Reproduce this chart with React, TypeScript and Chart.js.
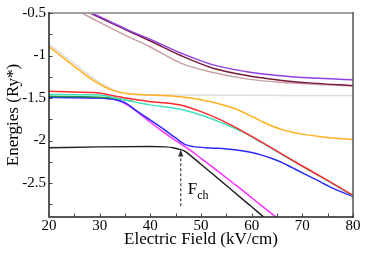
import { useEffect, useRef } from 'react';
import { Chart, registerables } from 'chart.js';

Chart.register(...registerables);

const X_TICKS = [20, 30, 40, 50, 60, 70, 80];
const X_MINOR = [25, 35, 45, 55, 65, 75];
const Y_TICKS = [-2.5, -2, -1.5, -1, -0.5];
const Y_MINOR = [-2.75, -2.25, -1.75, -1.25, -0.75];

const purpleX = [20, 25, 28.4, 32, 36, 40, 46, 52.4, 59, 65.6, 72, 80];
const purpleY = [-0.3, -0.42, -0.5, -0.6, -0.71, -0.81, -0.97, -1.11, -1.19, -1.238, -1.265, -1.285];

const maroonX = [20, 25, 28.1, 32, 36, 40, 46, 52.4, 59, 65.6, 72, 80];
const maroonY = [-0.3, -0.41, -0.5, -0.61, -0.72, -0.83, -1.0, -1.15, -1.235, -1.29, -1.325, -1.355];

const rosyX = [20, 23, 26.5, 30, 35, 40, 46, 52.4, 59, 65.6, 72, 80];
const rosyY = [-0.27, -0.38, -0.5, -0.61, -0.76, -0.9, -1.09, -1.2, -1.275, -1.315, -1.337, -1.355];

const grayX = [20, 24, 29.2, 31.5, 33.8, 36, 40, 45.7, 80];
const grayY = [-0.865, -1.05, -1.285, -1.37, -1.43, -1.455, -1.462, -1.465, -1.472];

const orangeX = [20, 24, 28.5, 31, 33.2, 35.8, 40, 46, 50, 53, 56.5, 60, 62, 64, 66, 68, 70, 73, 76, 80];
const orangeY = [-0.895, -1.08, -1.285, -1.37, -1.422, -1.45, -1.465, -1.485, -1.52, -1.56, -1.62, -1.715, -1.775, -1.83, -1.872, -1.902, -1.925, -1.95, -1.97, -1.99];

const redX = [20, 25, 29.9, 33.2, 36, 39.7, 45.7, 50, 54, 57.9, 62, 66, 70, 75, 80];
const redY = [-1.422, -1.43, -1.44, -1.48, -1.51, -1.54, -1.58, -1.66, -1.76, -1.88, -2.02, -2.16, -2.3, -2.47, -2.645];

const turqX = [20, 29.9, 33.2, 36, 39.7, 45.7, 50, 54, 57.9, 62, 66, 70, 75, 80];
const turqY = [-1.46, -1.465, -1.5, -1.535, -1.578, -1.63, -1.7, -1.79, -1.89, -2.025, -2.165, -2.305, -2.475, -2.65];

const greenX = [20, 29.9, 33.2, 35, 36.5];
const greenY = [-1.48, -1.49, -1.505, -1.522, -1.541];

const blueX = [20, 29.9, 33.2, 35.1, 37, 39, 42.7, 45, 46.8, 48.5, 52, 55, 58, 60, 62, 64, 66, 68, 70, 73, 76, 80];
const blueY = [-1.492, -1.5, -1.52, -1.558, -1.64, -1.72, -1.87, -1.97, -2.045, -2.072, -2.088, -2.1, -2.12, -2.142, -2.172, -2.212, -2.26, -2.32, -2.38, -2.47, -2.56, -2.66];

const magentaX = [20, 29.9, 33.2, 34, 36, 38, 40, 42, 44, 46, 48, 50, 53, 56, 59, 62, 65];
const magentaY = [-1.492, -1.5, -1.52, -1.535, -1.6, -1.69, -1.785, -1.875, -1.96, -2.04, -2.12, -2.21, -2.345, -2.485, -2.625, -2.77, -2.91];

const blackX = [20, 30, 40, 43, 44.5, 45.5, 46.6, 48, 50, 55, 60, 62.4, 64];
const blackY = [-2.085, -2.075, -2.07, -2.075, -2.085, -2.1, -2.12, -2.18, -2.28, -2.53, -2.78, -2.9, -2.98];

const ARROW_X = 46;
const ARROW_Y0 = -2.773;
const ARROW_Y1 = -2.105;
const LABEL_X = 47.4;
const LABEL_Y = -2.632;

const SERIF = "'Liberation Serif', 'DejaVu Serif', serif";

Chart.defaults.font.family = SERIF;

function pts(xs: number[], ys: number[]) {
  return xs.map((x, i) => ({ x, y: ys[i] }));
}

function ds(xs: number[], ys: number[], color: string, width = 1.5) {
  return {
    data: pts(xs, ys),
    borderColor: color,
    backgroundColor: color,
    borderWidth: width,
    pointRadius: 0,
    fill: false,
    cubicInterpolationMode: 'monotone' as const,
  };
}

const framePlugin = {
  id: 'frame',
  afterDatasetsDraw(chart: any) {
    const ctx = chart.ctx as CanvasRenderingContext2D;
    const { left, right, top, bottom } = chart.chartArea;
    const xs = chart.scales.x;
    const ys = chart.scales.y;
    ctx.save();
    const ax = xs.getPixelForValue(ARROW_X);
    const ay0 = ys.getPixelForValue(ARROW_Y0);
    const ay1 = ys.getPixelForValue(ARROW_Y1);
    ctx.strokeStyle = '#444';
    ctx.lineWidth = 1.2;
    ctx.setLineDash([3, 2]);
    ctx.beginPath();
    ctx.moveTo(ax, ay0);
    ctx.lineTo(ax, ay1 + 6);
    ctx.stroke();
    ctx.setLineDash([]);
    ctx.fillStyle = '#333';
    ctx.beginPath();
    ctx.moveTo(ax, ay1);
    ctx.lineTo(ax - 2.6, ay1 + 7);
    ctx.lineTo(ax + 2.6, ay1 + 7);
    ctx.closePath();
    ctx.fill();
    const lx = xs.getPixelForValue(LABEL_X);
    const ly = ys.getPixelForValue(LABEL_Y);
    ctx.fillStyle = '#000';
    ctx.textBaseline = 'alphabetic';
    ctx.textAlign = 'left';
    ctx.font = `17px ${SERIF}`;
    ctx.fillText('F', lx, ly);
    const fw = ctx.measureText('F').width;
    ctx.font = `12px ${SERIF}`;
    ctx.fillText('ch', lx + fw, ly + 5);
    ctx.lineCap = 'square';
    ctx.strokeStyle = '#a0a0a0';
    ctx.lineWidth = 2;
    ctx.beginPath();
    ctx.moveTo(left, top);
    ctx.lineTo(right, top);
    ctx.stroke();
    ctx.strokeStyle = '#555';
    ctx.lineWidth = 1.5;
    ctx.beginPath();
    ctx.moveTo(right, top);
    ctx.lineTo(right, bottom);
    ctx.stroke();
    ctx.strokeStyle = '#222';
    ctx.beginPath();
    ctx.moveTo(left, top);
    ctx.lineTo(left, bottom);
    ctx.lineTo(right, bottom);
    ctx.stroke();
    ctx.lineWidth = 1;
    ctx.strokeStyle = '#444';
    ctx.beginPath();
    X_TICKS.concat(X_MINOR).forEach((v) => {
      const p = Math.round(xs.getPixelForValue(v)) + 0.5;
      ctx.moveTo(p, bottom);
      ctx.lineTo(p, bottom - 3);
    });
    Y_TICKS.concat(Y_MINOR).forEach((v) => {
      const p = Math.round(ys.getPixelForValue(v)) + 0.5;
      ctx.moveTo(left, p);
      ctx.lineTo(left + 3, p);
    });
    ctx.stroke();
    ctx.restore();
  },
};

export default function App() {
  const ref = useRef<HTMLCanvasElement | null>(null);
  useEffect(() => {
    document.body.style.margin = '0';
    const canvas = ref.current!;
    const chart = new Chart(canvas, {
      type: 'line',
      data: {
        datasets: [
          ds(purpleX, purpleY, '#9040e0'),
          ds(maroonX, maroonY, '#7a1a3a'),
          ds(rosyX, rosyY, '#c8a0a0'),
          ds(orangeX, orangeY, '#ffb020'),
          ds(grayX, grayY, '#dcdcdc'),
          ds(redX, redY, '#ff2a2a'),
          ds(turqX, turqY, '#40e0c0'),
          ds(greenX, greenY, '#1a9a40'),
          ds(blueX, blueY, '#2a2aff'),
          ds(magentaX, magentaY, '#ff30ff'),
          ds(blackX, blackY, '#222222'),
        ] as any,
      },
      options: {
        animation: false,
        responsive: false,
        maintainAspectRatio: false,
        layout: { padding: { left: 0, top: 13, right: 21, bottom: 0 } },
        plugins: { legend: { display: false }, tooltip: { enabled: false } },
        scales: {
          x: {
            type: 'linear',
            min: 20,
            max: 80,
            grid: { display: false, drawTicks: false },
            border: { display: false },
            afterBuildTicks: (s: any) => {
              s.ticks = X_TICKS.map((v) => ({ value: v }));
            },
            afterFit: (s: any) => {
              s.height = 45;
            },
            ticks: {
              padding: 0,
              color: '#000',
              font: { family: SERIF, size: 15 },
              callback: (v: any) => String(v),
            },
            title: {
              display: true,
              text: 'Electric Field (kV/cm)',
              color: '#000',
              font: { family: SERIF, size: 17 },
              padding: { top: 0, bottom: 12.3 },
            },
          },
          y: {
            type: 'linear',
            min: -2.9,
            max: -0.5,
            grid: { display: false, drawTicks: false },
            border: { display: false },
            afterBuildTicks: (s: any) => {
              s.ticks = Y_TICKS.map((v) => ({ value: v }));
            },
            afterFit: (s: any) => {
              s.width = 49;
            },
            ticks: {
              padding: 3,
              color: '#000',
              font: { family: SERIF, size: 15 },
              callback: (v: any) => String(v),
            },
            title: {
              display: true,
              text: 'Energies (Ry*)',
              color: '#000',
              font: { family: SERIF, size: 17 },
              padding: { top: 3.8, bottom: 0 },
            },
          },
        },
      } as any,
      plugins: [framePlugin],
    });
    return () => chart.destroy();
  }, []);
  return (
    <div style={{ position: 'fixed', left: 0, top: 0, width: 374, height: 262 }}>
      <canvas ref={ref} width={374} height={262} style={{ width: 374, height: 262 }} />
    </div>
  );
}
